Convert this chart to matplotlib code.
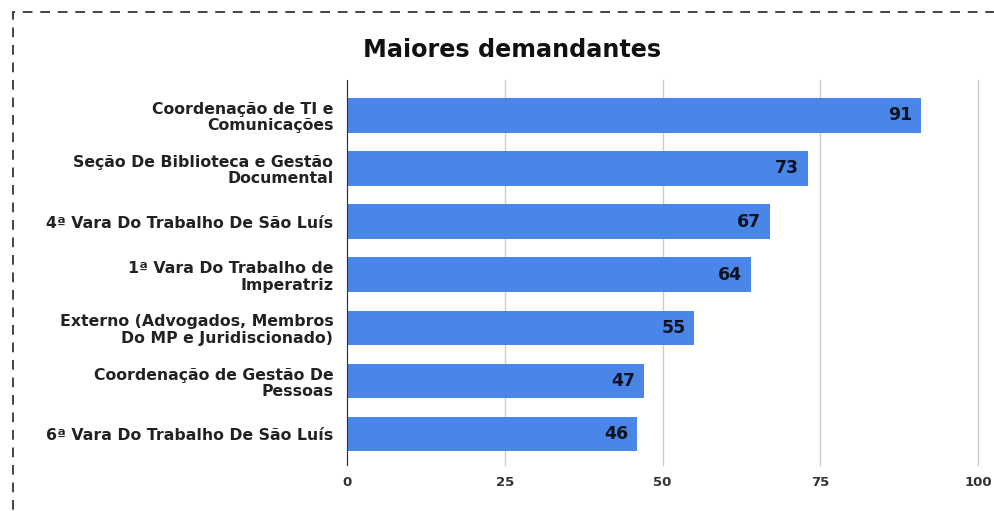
import matplotlib.pyplot as plt
from matplotlib.patches import Rectangle

categories = [
    'Coordenação de TI e\nComunicações',
    'Seção De Biblioteca e Gestão\nDocumental',
    '4ª Vara Do Trabalho De São Luís',
    '1ª Vara Do Trabalho de\nImperatriz',
    'Externo (Advogados, Membros\nDo MP e Juridiscionado)',
    'Coordenação de Gestão De\nPessoas',
    '6ª Vara Do Trabalho De São Luís',
]
values = [91, 73, 67, 64, 55, 47, 46]
xticks = [0, 25, 50, 75, 100]

plt.rcParams['font.family'] = ['DejaVu Sans']

fig = plt.figure(figsize=(9.95, 5.11), dpi=100)
ax = fig.add_axes([0.349, 0.090, 0.634, 0.753])

y = list(range(len(categories)))
ax.barh(y, values, height=0.65, color='#4a86e8', zorder=3)

for yi, v in zip(y, values):
    ax.text(v - 1.4, yi, str(v), ha='right', va='center',
            fontsize=12.5, fontweight='bold', color='#0b1222', zorder=4)

ax.set_xlim(0, 100)
ax.set_ylim(6.58, -0.66)
ax.set_yticks(y)
ax.set_yticklabels(categories, fontsize=11.3, fontweight='bold', color='#222222',
                   linespacing=1.12)
ax.set_xticks(xticks)
ax.set_xticklabels([str(t) for t in xticks], fontsize=9.5, fontweight='bold', color='#333333')
ax.tick_params(axis='y', length=0, pad=10)
ax.tick_params(axis='x', length=0, pad=8)

ax.grid(axis='x', color='#cccccc', linewidth=1, zorder=0)
for gl in ax.xaxis.get_gridlines():
    gl.set_clip_on(False)
for s in ['top', 'right', 'bottom']:
    ax.spines[s].set_visible(False)
ax.spines['left'].set_color('#333333')
ax.spines['left'].set_zorder(5)

fig.text(0.515, 0.902, 'Maiores demandantes', ha='center', va='center',
         fontsize=17.2, fontweight='bold', color='#111111')

# dashed frame around the chart (runs off the right/bottom edges)
fig.patches.append(Rectangle((0.013, -0.05), 1.2, 0.977 + 0.05, transform=fig.transFigure,
                             fill=False, edgecolor='#444444', linestyle=(0, (5, 4)),
                             linewidth=1.4))

fig.savefig('out.png', dpi=100)
